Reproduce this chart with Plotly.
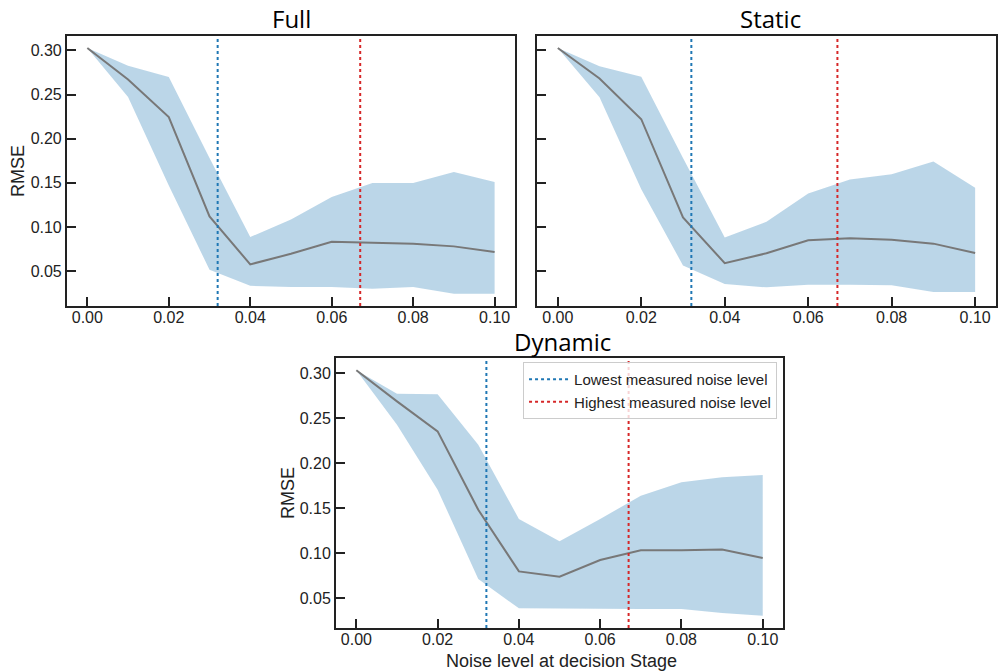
import plotly.graph_objects as go

noise = [0.00, 0.01, 0.02, 0.03, 0.04, 0.05, 0.06, 0.07, 0.08, 0.09, 0.10]

full_mean  = [0.3026, 0.267, 0.2245, 0.112, 0.0576, 0.0696, 0.0832, 0.0821, 0.081, 0.078, 0.0715]
full_upper = [0.3026, 0.2826, 0.2698, 0.178, 0.0885, 0.1085, 0.1338, 0.1497, 0.1497, 0.1622, 0.1508]
full_lower = [0.3026, 0.2471, 0.147, 0.0515, 0.0334, 0.0319, 0.0319, 0.030, 0.0319, 0.0243, 0.0243]

static_mean  = [0.3026, 0.2681, 0.222, 0.1107, 0.059, 0.0702, 0.0849, 0.0871, 0.0856, 0.0811, 0.0706]
static_upper = [0.3026, 0.282, 0.270, 0.178, 0.088, 0.1058, 0.138, 0.1538, 0.1598, 0.1741, 0.1445]
static_lower = [0.3026, 0.2468, 0.1426, 0.0564, 0.0354, 0.0316, 0.0346, 0.0346, 0.0339, 0.0264, 0.0264]

dynamic_mean  = [0.303, 0.2685, 0.2352, 0.148, 0.0796, 0.0737, 0.0922, 0.103, 0.103, 0.104, 0.0944]
dynamic_upper = [0.303, 0.277, 0.2763, 0.2204, 0.1378, 0.113, 0.1378, 0.1637, 0.1785, 0.1841, 0.1867]
dynamic_lower = [0.303, 0.2426, 0.1704, 0.0711, 0.0385, 0.0385, 0.0378, 0.0378, 0.0378, 0.0333, 0.0304]

lowest_noise = 0.032
highest_noise = 0.067

panel_titles = ["Full", "Static", "Dynamic"]
x_ticks = [0.00, 0.02, 0.04, 0.06, 0.08, 0.10]
y_ticks = [0.05, 0.10, 0.15, 0.20, 0.25, 0.30]

FILL = "rgba(31,119,180,0.3)"
MEAN = "rgb(120,120,120)"
BLUE = "#1f77b4"
RED = "#d62728"
TICKFONT = dict(family="Liberation Sans, Arial", size=16, color="#222")

fig = go.Figure()

panels = [
    (full_mean, full_upper, full_lower, "x", "y", [0.0105, 0.316]),
    (static_mean, static_upper, static_lower, "x2", "y2", [0.0105, 0.316]),
    (dynamic_mean, dynamic_upper, dynamic_lower, "x3", "y3", [0.0167, 0.3167]),
]

for i, (m, u, l, xa, ya, yr) in enumerate(panels):
    fig.add_trace(go.Scatter(
        x=noise + noise[::-1], y=u + l[::-1], fill="toself", fillcolor=FILL,
        line=dict(width=0), mode="lines", hoverinfo="skip", showlegend=False,
        xaxis=xa, yaxis=ya))
    fig.add_trace(go.Scatter(
        x=noise, y=m, mode="lines", line=dict(color=MEAN, width=2),
        showlegend=False, xaxis=xa, yaxis=ya))
    show = (i == 2)
    fig.add_trace(go.Scatter(
        x=[lowest_noise, lowest_noise], y=yr, mode="lines",
        line=dict(color=BLUE, width=2, dash="dot"),
        name="Lowest measured noise level", showlegend=show, xaxis=xa, yaxis=ya))
    fig.add_trace(go.Scatter(
        x=[highest_noise, highest_noise], y=yr, mode="lines",
        line=dict(color=RED, width=2, dash="dot"),
        name="Highest measured noise level", showlegend=show, xaxis=xa, yaxis=ya))

axis_common = dict(showline=True, mirror=True, linewidth=2, linecolor="#222",
                   showgrid=False, zeroline=False, ticks="inside", ticklen=9,
                   tickwidth=1.5, tickcolor="#222", tickfont=TICKFONT)

xcommon = dict(axis_common, range=[-0.005, 0.105], tickvals=x_ticks, tickformat=".2f",
               ticklabelstandoff=-4)

fig.update_layout(
    width=998, height=671,
    margin=dict(l=0, r=0, t=0, b=0),
    plot_bgcolor="white", paper_bgcolor="white",
    xaxis=dict(xcommon, domain=[0.0671, 0.516], anchor="y"),
    yaxis=dict(axis_common, domain=[0.544, 0.946], anchor="x", range=[0.0105, 0.316],
               tickvals=y_ticks, tickformat=".2f"),
    xaxis2=dict(xcommon, domain=[0.538, 0.998], anchor="y2"),
    yaxis2=dict(axis_common, domain=[0.544, 0.946], anchor="x2", range=[0.0105, 0.316],
                tickvals=y_ticks, showticklabels=False),
    xaxis3=dict(xcommon, domain=[0.3367, 0.7846], anchor="y3"),
    yaxis3=dict(axis_common, domain=[0.0641, 0.4665], anchor="x3", range=[0.0167, 0.3167],
                tickvals=y_ticks, tickformat=".2f"),
    legend=dict(x=0.7786, y=1 - 362 / 671, xanchor="right", yanchor="top",
                bgcolor="rgba(255,255,255,0.8)", bordercolor="#cccccc", borderwidth=1,
                font=dict(family="Liberation Sans, Arial", size=15, color="#222"),
                itemwidth=40, tracegroupgap=2),
    showlegend=True,
)

title_font = dict(family="Open Sans", size=24, color="black")
title_pos = [(291 / 998, 1 - 18 / 671), (770 / 998, 1 - 18 / 671), (562 / 998, 1 - 341 / 671)]
for t, (tx, ty) in zip(panel_titles, title_pos):
    fig.add_annotation(text=t, x=tx, y=ty, xref="paper", yref="paper",
                       showarrow=False, font=title_font, xanchor="center", yanchor="middle")

label_font = dict(family="Liberation Sans, Arial", size=18, color="#222")
fig.add_annotation(text="RMSE", x=18 / 998, y=1 - 171 / 671, xref="paper", yref="paper",
                   showarrow=False, textangle=-90, font=label_font,
                   xanchor="center", yanchor="middle")
fig.add_annotation(text="RMSE", x=288 / 998, y=1 - 493 / 671, xref="paper", yref="paper",
                   showarrow=False, textangle=-90, font=label_font,
                   xanchor="center", yanchor="middle")
fig.add_annotation(text="Noise level at decision Stage", x=561 / 998, y=1 - 661 / 671,
                   xref="paper", yref="paper", showarrow=False, font=label_font,
                   xanchor="center", yanchor="middle")

fig.write_html("out.html")
